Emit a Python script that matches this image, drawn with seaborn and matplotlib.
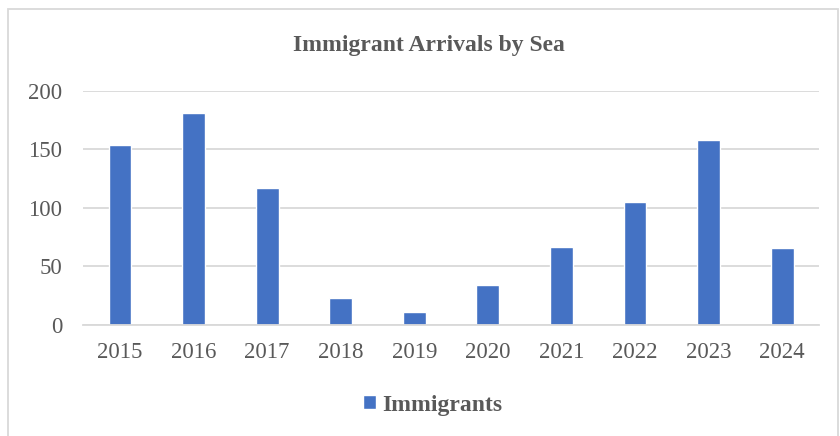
import matplotlib
matplotlib.use("Agg")
import matplotlib.pyplot as plt
from matplotlib.patches import Rectangle
import seaborn as sns
import pandas as pd

years = ["2015", "2016", "2017", "2018", "2019", "2020", "2021", "2022", "2023", "2024"]
immigrants = [154, 181, 117, 23, 11, 34, 67, 105, 158, 66]
y_ticks = [0, 50, 100, 150, 200]
series_name = "Immigrants"
title = "Immigrant Arrivals by Sea"

df = pd.DataFrame({"Year": years, series_name: immigrants})

sns.set_theme(style="white")
plt.rcParams["font.family"] = ["Liberation Serif", "DejaVu Serif"]

BLUE = "#4472C4"
GRID = "#D9D9D9"
TEXT = "#595959"

fig = plt.figure(figsize=(8.4, 4.36), dpi=100)
ax = fig.add_axes([0.099, 0.2546, 0.876, 0.5367])

sns.barplot(data=df, x="Year", y=series_name, color=BLUE, width=0.31,
            saturation=1, ax=ax, label=series_name)

ax.set_ylim(0, 200)
ax.set_xlim(-0.5, len(years) - 0.5)
ax.set_yticks(y_ticks)
ax.set_yticklabels([str(t) for t in y_ticks])
ax.yaxis.grid(True, color=GRID, linewidth=1.3)
ax.set_axisbelow(True)
for s in ["top", "right", "left"]:
    ax.spines[s].set_visible(False)
ax.spines["bottom"].set_color(GRID)
ax.spines["bottom"].set_linewidth(1.3)
ax.set_xlabel("")
ax.set_ylabel("")
ax.tick_params(axis="both", length=0, labelsize=16.5, colors=TEXT)
ax.tick_params(axis="x", pad=12)
ax.tick_params(axis="y", pad=15)

fig.text(0.511, 0.895, title, ha="center", va="center", fontsize=17,
         fontweight="bold", color=TEXT)

leg = ax.legend(loc="center", bbox_to_anchor=(0.515, 0.071), bbox_transform=fig.transFigure,
                frameon=False, handlelength=0.55, handleheight=0.55, handletextpad=0.25,
                prop={"size": 17, "weight": "bold"})
for t in leg.get_texts():
    t.set_color(TEXT)

fig.patches.append(Rectangle((0.0095, -0.01), 0.988, 0.989, transform=fig.transFigure,
                             fill=False, edgecolor=GRID, linewidth=1.3))

fig.savefig("out.png", dpi=100)
